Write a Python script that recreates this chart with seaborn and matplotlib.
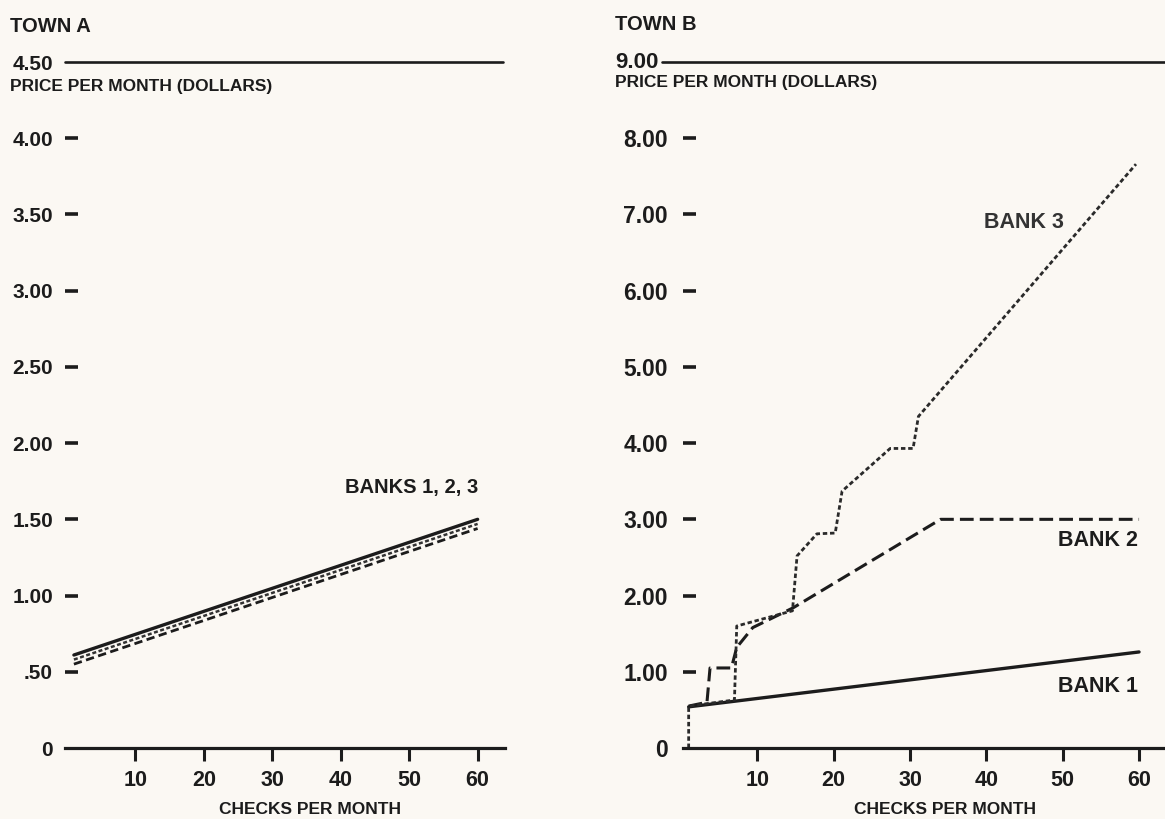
import numpy as np
import pandas as pd
import seaborn as sns
from matplotlib import pyplot as plt

# ---------------- data ----------------
# Town A: three banks, nearly identical straight lines
a_checks = [1, 60]
a_bank1 = [0.61, 1.50]
a_bank2 = [0.55, 1.44]
a_bank3 = [0.58, 1.47]

# Town B
b1_checks = [1, 60]
b1_price = [0.54, 1.26]

b2_checks = [1, 3.4, 3.8, 5.5, 6.6, 7.3, 9.4, 14.7, 34, 60]
b2_price = [0.55, 0.60, 1.05, 1.05, 1.05, 1.32, 1.58, 1.84, 3.00, 3.00]

b3_checks = [1, 1, 7.0, 7.3, 14.6, 15.2, 17.8, 20.2, 21.1, 27.4, 30.4, 31.1, 59.6]
b3_price = [0, 0.55, 0.63, 1.60, 1.80, 2.52, 2.81, 2.82, 3.37, 3.93, 3.93, 4.35, 7.66]

a_yticks = [0, 0.5, 1.0, 1.5, 2.0, 2.5, 3.0, 3.5, 4.0, 4.5]
a_ylabels = ['0', '.50', '1.00', '1.50', '2.00', '2.50', '3.00', '3.50', '4.00', '4.50']
b_yticks = [0, 1, 2, 3, 4, 5, 6, 7, 8, 9]
b_ylabels = ['0', '1.00', '2.00', '3.00', '4.00', '5.00', '6.00', '7.00', '8.00', '']
xticks = [10, 20, 30, 40, 50, 60]

# ---------------- style ----------------
sns.set_theme(style='white')
plt.rcParams['font.family'] = ['Liberation Sans', 'DejaVu Sans']
plt.rcParams['font.weight'] = 'bold'

bg = '#fbf8f3'
ink = '#1c1c1c'

fig = plt.figure(figsize=(11.65, 8.19), dpi=100, facecolor=bg)
ax_a = fig.add_axes([65 / 1165, 71 / 819, 440 / 1165, 686 / 819])
ax_b = fig.add_axes([683 / 1165, 71 / 819, 482 / 1165, 686 / 819])


def make_df(x, y):
    return pd.DataFrame({'checks': x, 'price': y})


# Town A lines
sns.lineplot(data=make_df(a_checks, a_bank1), x='checks', y='price', ax=ax_a,
             estimator=None, sort=False, color=ink, lw=2.4)
sns.lineplot(data=make_df(a_checks, a_bank3), x='checks', y='price', ax=ax_a,
             estimator=None, sort=False, color='#333333', lw=1.8,
             linestyle=(0, (1.6, 1.0)))
sns.lineplot(data=make_df(a_checks, a_bank2), x='checks', y='price', ax=ax_a,
             estimator=None, sort=False, color=ink, lw=2.0,
             linestyle=(0, (3.0, 1.6)))

# Town B lines
sns.lineplot(data=make_df(b1_checks, b1_price), x='checks', y='price', ax=ax_b,
             estimator=None, sort=False, color=ink, lw=2.4)
sns.lineplot(data=make_df(b2_checks, b2_price), x='checks', y='price', ax=ax_b,
             estimator=None, sort=False, color=ink, lw=2.2,
             linestyle=(0, (4.5, 2.0)))
sns.lineplot(data=make_df(b3_checks, b3_price), x='checks', y='price', ax=ax_b,
             estimator=None, sort=False, color='#2a2a2a', lw=2.0,
             linestyle=(0, (1.6, 1.0)))


def style_axes(ax, xlim, ylim, yticks, ylabels, ylab_size, ypad, top_xmin, top_xmax, label_x):
    ax.set_facecolor(bg)
    ax.set_xlim(*xlim)
    ax.set_ylim(*ylim)
    for s in ['top', 'right', 'left']:
        ax.spines[s].set_visible(False)
    ax.spines['bottom'].set_color(ink)
    ax.spines['bottom'].set_linewidth(2.3)

    ax.set_yticks(yticks)
    ax.set_yticklabels(ylabels)
    ax.tick_params(axis='y', left=True, direction='in', length=9.6, width=2.6, color=ink,
                   labelsize=ylab_size, pad=ypad, labelcolor=ink)
    ticks = ax.yaxis.get_major_ticks()
    ticks[0].tick1line.set_visible(False)
    ticks[-1].tick1line.set_visible(False)

    ax.set_xticks(xticks)
    ax.set_xticklabels([str(t) for t in xticks])
    ax.tick_params(axis='x', bottom=True, direction='out', length=9.6, width=2.2, color=ink,
                   labelsize=15.5, pad=6.5, labelcolor=ink)

    # top frame line at the top value
    ax.axhline(ylim[1], xmin=top_xmin, xmax=top_xmax, color=ink, lw=1.9, clip_on=False)

    ax.set_ylabel('')
    ax.set_xlabel('CHECKS PER MONTH', fontsize=12.5, fontweight='bold', color=ink)
    ax.xaxis.set_label_coords(label_x, -0.09)
    ax.xaxis.label.set_va('center')


style_axes(ax_a, (-0.3, 64.0), (0, 4.5), a_yticks, a_ylabels, 15, 8.6, 0, 0.995, 0.557)
style_axes(ax_b, (0.26, 63.4), (0, 9.0), b_yticks, b_ylabels, 16.5, 10.8, -0.044, 1.0, 0.544)

# titles and axis captions
fig.text(10 / 1165, 1 - 26 / 819, 'TOWN A', fontsize=14.5, fontweight='bold', color=ink, va='center')
fig.text(10 / 1165, 1 - 86 / 819, 'PRICE PER MONTH (DOLLARS)', fontsize=12.5,
         fontweight='bold', color=ink, va='center')
fig.text(615 / 1165, 1 - 24 / 819, 'TOWN B', fontsize=14.5, fontweight='bold', color=ink, va='center')
fig.text(615 / 1165, 1 - 62 / 819, '9.00', fontsize=16, fontweight='bold', color=ink, va='center')
fig.text(615 / 1165, 1 - 82 / 819, 'PRICE PER MONTH (DOLLARS)', fontsize=12.5,
         fontweight='bold', color=ink, va='center')

# line labels
ax_a.text(60.1, 1.71, 'BANKS 1, 2, 3', fontsize=14.5, fontweight='bold', color=ink,
          ha='right', va='center')
ax_b.text(50.1, 6.89, 'BANK 3', fontsize=15.5, fontweight='bold', color='#333333',
          ha='right', va='center')
ax_b.text(59.8, 2.72, 'BANK 2', fontsize=15.5, fontweight='bold', color=ink,
          ha='right', va='center')
ax_b.text(59.8, 0.81, 'BANK 1', fontsize=15.5, fontweight='bold', color=ink,
          ha='right', va='center')

fig.savefig('out.png', dpi=100, facecolor=bg)
